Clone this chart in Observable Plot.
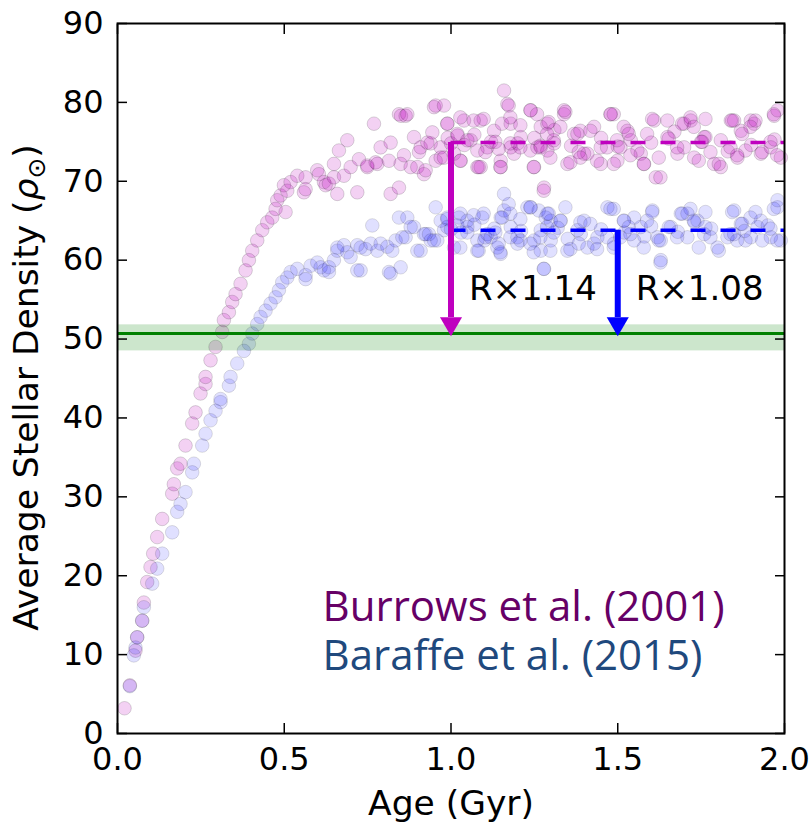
<!DOCTYPE html>
<html>
<head>
<meta charset="utf-8">
<script src="https://cdn.jsdelivr.net/npm/d3@7"></script>
<script src="https://cdn.jsdelivr.net/npm/@observablehq/plot@0.6"></script>
<style>
  html, body { margin: 0; padding: 0; background: #fff; }
  #chart svg { display: block; }
</style>
</head>
<body>
<div id="chart"></div>
<script>
// ---------------- data ----------------
const xTicks = [0, 0.5, 1.0, 1.5, 2.0];
const yTicks = [0, 10, 20, 30, 40, 50, 60, 70, 80, 90];
const xDomain = [0, 2];
const yDomain = [0, 90];

const burrowsAge = [
  0.021,0.037,0.054,0.059,0.074,0.079,0.089,0.099,0.107,0.119,0.134,0.164,0.169,0.179,0.189,0.204,0.224,0.234,0.249,0.264,
  0.264,0.279,0.294,0.314,0.319,0.334,0.344,0.354,0.369,0.384,0.394,0.404,0.419,0.434,0.449,0.464,0.474,0.479,0.489,0.499,
  0.504,0.509,0.519,0.539,0.559,0.564,0.564,0.599,0.604,0.619,0.624,0.634,0.649,0.649,0.659,0.664,0.679,0.689,0.699,0.719,
  0.724,0.749,0.749,0.769,0.774,0.779,0.789,0.814,0.819,0.819,0.844,0.844,0.849,0.850,0.859,0.864,0.869,0.879,0.889,0.899,
  0.904,0.909,0.919,0.924,0.929,0.939,0.944,0.949,0.954,0.954,0.969,0.969,0.979,0.989,1.009,1.029,1.039,1.059,1.079,1.089,
  1.089,1.109,1.129,1.149,1.149,1.159,1.169,1.179,1.179,1.189,1.209,1.239,1.249,1.259,1.269,1.269,1.279,1.289,1.289,1.309,
  1.339,1.339,1.349,1.369,1.379,1.399,1.409,1.429,1.449,1.449,1.479,1.499,1.529,1.539,1.559,1.569,1.579,1.609,1.614,1.649,
  1.649,1.679,1.699,1.699,1.719,1.729,1.759,1.789,1.809,1.809,1.839,1.849,1.859,1.869,1.899,1.909,1.929,1.959,1.969,1.979,
  1.989,0.990,1.000,1.020,1.040,1.070,1.120,1.200,1.310,1.450,1.600,1.750,1.900,1.970,1.500,1.360,1.250,1.670,1.830,
  1.173,1.098,1.068,1.028,0.989,0.979,1.019,1.049,1.079,1.103,1.133,1.153,1.178,1.208,1.238,1.258,1.293,1.288,1.268,1.238,
  1.208,1.178,1.143,1.308,1.343,1.328,1.388,1.418,1.383,1.358,1.298,1.248,1.148,1.083,1.028,1.388,1.438,1.478,1.498,1.468,
  1.278,1.488,1.518,1.533,1.508,1.488,1.538,1.578,1.588,1.603,1.628,1.623,1.653,1.678,1.693,1.718,1.728,1.763,1.763,1.743,
  1.778,1.803,1.838,1.843,1.873,1.898,1.913,1.883,1.933,1.968,1.978,1.958,1.858,1.753
];
const burrowsDensity = [
  3.2,6.1,10.5,12.2,14.3,16.6,19.2,21.1,22.8,24.9,27.2,30.4,31.6,33.6,34.2,36.5,39.3,40.7,43.1,44.3,
  45.2,47.3,49.0,50.9,52.4,53.4,54.7,55.7,57.0,58.7,60.0,61.2,62.5,63.8,64.8,65.4,66.5,67.6,68.2,69.5,
  66.1,68.8,69.9,70.7,68.6,70.5,69.0,71.4,70.9,69.9,69.5,69.7,70.5,72.2,68.4,73.9,70.7,75.2,71.8,68.6,
  72.8,71.8,72.0,77.3,72.4,72.2,74.3,72.6,68.4,74.9,69.2,78.5,72.2,78.3,73.3,78.3,78.5,71.8,75.6,71.8,
  73.7,74.3,70.9,71.4,74.9,74.8,76.2,79.4,79.6,72.6,74.3,73.0,73.0,77.3,73.5,72.6,77.7,75.2,71.8,77.7,
  71.8,74.3,76.4,71.8,72.6,81.5,79.8,77.3,74.3,73.5,75.6,79.0,71.8,74.3,76.9,74.3,69.2,73.9,77.3,74.8,
  78.5,79.0,72.2,76.0,76.0,73.5,73.5,76.9,74.3,72.2,78.5,72.6,76.4,75.2,73.9,73.5,72.2,77.7,70.5,75.6,
  77.7,73.5,77.3,74.3,77.7,73.0,75.6,72.2,71.8,75.2,77.7,77.7,73.0,76.4,77.7,77.3,73.5,74.3,78.3,79.0,
  73.0,75.5,74.8,75.8,74.6,75.9,75.0,74.8,76.5,75.5,74.9,75.0,74.6,75.3,74.4,74.5,75.5,76.3,73.8,
  79.6,77.9,77.7,78.1,77.3,79.6,76.0,75.2,73.9,73.7,75.0,77.3,78.1,77.1,79.0,78.5,77.5,76.0,74.5,73.9,
  74.3,74.8,74.1,75.2,78.8,76.9,76.4,76.4,73.7,72.4,73.0,71.8,71.8,71.8,72.6,73.0,72.6,78.5,75.2,74.3,
  68.8,78.5,76.9,76.0,74.3,72.2,73.3,72.2,76.0,77.9,70.5,73.0,75.4,74.3,77.3,78.1,76.9,77.9,75.6,72.6,
  73.7,72.2,74.3,77.7,76.0,76.9,77.7,73.9,73.7,78.5,73.3,75.0,73.3,75.0
];

const baraffeAge = [
  0.037,0.049,0.054,0.059,0.074,0.079,0.104,0.119,0.134,0.164,0.179,0.189,0.204,0.224,0.229,0.254,0.264,0.279,0.294,0.309,
  0.309,0.334,0.339,0.359,0.379,0.394,0.404,0.419,0.429,0.444,0.459,0.474,0.484,0.494,0.509,0.519,0.539,0.564,0.564,0.579,
  0.599,0.609,0.619,0.634,0.634,0.649,0.659,0.659,0.679,0.689,0.699,0.719,0.719,0.729,0.729,0.744,0.759,0.764,0.779,0.789,
  0.809,0.814,0.819,0.824,0.834,0.844,0.849,0.854,0.864,0.869,0.879,0.889,0.899,0.909,0.919,0.924,0.934,0.939,0.949,0.954,
  0.959,0.969,0.979,0.989,0.989,1.009,1.024,1.049,1.049,1.079,1.094,1.109,1.119,1.139,1.149,1.149,1.159,1.159,1.179,1.199,
  1.199,1.229,1.239,1.249,1.269,1.269,1.279,1.284,1.289,1.299,1.299,1.329,1.349,1.379,1.389,1.399,1.409,1.429,1.439,1.469,
  1.489,1.519,1.549,1.549,1.569,1.604,1.619,1.629,1.629,1.659,1.689,1.709,1.709,1.739,1.759,1.799,1.829,1.849,1.849,1.869,
  1.899,1.919,1.929,1.959,1.979,1.979,1.989,1.000,1.030,1.070,1.130,1.210,1.320,1.450,1.520,1.600,1.680,1.780,1.880,1.950,
  1.100,1.350,1.580,1.730,
  1.173,1.098,1.068,1.028,0.989,1.019,1.049,1.079,1.103,1.133,1.153,1.178,1.208,1.238,1.263,1.293,1.288,1.268,1.238,1.208,
  1.178,1.143,1.308,1.343,1.328,1.388,1.418,1.383,1.358,1.298,1.248,1.148,1.083,1.028,1.438,1.478,1.468,1.278,
  1.488,1.518,1.533,1.508,1.488,1.538,1.578,1.588,1.603,1.628,1.623,1.653,1.678,1.693,1.718,1.728,1.763,1.763,1.743,1.778,
  1.803,1.838,1.843,1.873,1.898,1.913,1.883,1.933,1.968,1.978,1.958,1.858
];
const baraffeDensity = [
  6.0,9.9,10.9,12.2,14.3,16.0,19.0,20.9,22.8,25.5,28.1,29.1,30.6,33.1,34.2,36.5,38.0,39.7,40.9,42.0,
  42.4,44.1,45.2,46.9,48.5,49.4,50.7,51.9,52.8,53.6,54.5,55.3,56.2,57.2,57.8,58.5,58.9,58.1,57.6,59.3,
  59.7,59.1,58.7,59.1,58.5,60.0,61.2,61.6,61.9,61.0,60.4,61.9,58.7,58.7,61.6,61.4,62.1,64.4,61.2,62.1,
  61.7,58.5,58.3,61.2,62.5,65.4,59.1,62.9,62.9,65.4,64.2,64.2,61.2,61.2,63.3,63.3,63.3,62.5,62.5,66.7,
  62.5,65.0,63.8,65.4,64.2,61.6,65.4,64.2,65.0,61.2,65.4,63.3,62.9,61.6,60.8,65.4,66.3,68.4,64.2,62.9,
  62.1,66.7,66.7,62.5,61.2,63.8,58.9,65.4,65.9,62.5,65.0,65.0,61.2,63.8,63.3,65.0,61.6,62.1,62.9,66.7,
  62.1,65.0,62.5,65.4,64.2,66.3,62.9,60.0,62.5,64.2,65.9,62.9,65.9,65.0,63.3,61.6,62.9,66.3,63.3,64.6,
  62.9,64.2,65.0,62.9,66.7,67.6,62.5,63.9,63.5,64.5,64.0,63.7,64.1,63.9,63.5,64.3,63.6,64.0,63.7,64.4,
  62.5,62.7,63.0,64.8,
  67.1,65.9,65.7,65.9,65.2,64.4,63.5,62.5,62.9,63.5,65.4,65.9,65.2,66.7,66.3,65.9,64.2,62.9,62.1,62.5,
  62.9,62.1,63.5,66.7,65.0,64.8,64.6,62.1,61.4,61.2,61.0,61.0,61.2,61.6,61.4,66.5,62.9,58.9,
  66.5,65.0,64.2,62.9,61.6,63.3,61.6,65.0,66.1,59.7,62.5,64.2,62.9,65.9,66.5,65.0,66.1,64.2,61.6,62.9,
  61.2,63.3,66.1,64.6,65.4,66.1,62.5,62.5,66.5,62.5,64.0,62.5
];

// reference density and its uncertainty band
const refDensity = 50.7;
const refBand = [48.5, 51.8];
// model plateau levels, arrow ages and labels
const seriesNames = ["Burrows et al. (2001)", "Baraffe et al. (2015)"];
const plateauLevels = [74.9, 63.8];
const arrowAges = [1.0, 1.5];
const plateauStart = 1.0;
const ratioLabels = ["R×1.14", "R×1.08"];
const legendAge = 0.615;
const legendDensity = [14.3, 8.0];
const ratioLabelDensity = 54.9;

// ------------- build tables -------------
const burrows = burrowsAge.map((x, i) => ({x, y: burrowsDensity[i]}));
const baraffe = baraffeAge.map((x, i) => ({x, y: baraffeDensity[i]}));
const arrows = arrowAges.map((x, i) => ({x, top: plateauLevels[i], label: ratioLabels[i], color: ["#bf00bf", "#0000ff"][i]}));
const plateaus = plateauLevels.map((y, i) => ({y, color: ["#bf00bf", "#0000ff"][i]}));
const legend = seriesNames.map((name, i) => ({name, y: legendDensity[i], color: ["#660066", "#1f497d"][i]}));

const font = "DejaVu Sans";

const chart = Plot.plot({
  width: 811,
  height: 826,
  marginLeft: 117,
  marginRight: 27,
  marginTop: 23,
  marginBottom: 93,
  style: {fontFamily: font, background: "white", color: "black", overflow: "visible"},
  x: {domain: xDomain},
  y: {domain: yDomain},
  marks: [
    Plot.dot(burrows, {x: "x", y: "y", r: 6.8, fill: "#bf00bf", fillOpacity: 0.18, stroke: "black", strokeOpacity: 0.15, strokeWidth: 1}),
    Plot.dot(baraffe, {x: "x", y: "y", r: 6.8, fill: "#0000ff", fillOpacity: 0.12, stroke: "black", strokeOpacity: 0.12, strokeWidth: 1}),
    Plot.rect([refBand], {x1: () => xDomain[0], x2: () => xDomain[1], y1: d => d[0], y2: d => d[1], fill: "green", fillOpacity: 0.2}),
    Plot.ruleY([refDensity], {stroke: "green", strokeWidth: 3}),
    Plot.ruleY(plateaus, {y: "y", x1: () => plateauStart, x2: () => xDomain[1], stroke: "color", strokeWidth: 3.5, strokeDasharray: "15,15"}),
    Plot.ruleX(arrows, {x: "x", y1: "top", y2: () => refDensity, stroke: "color", strokeWidth: 6, insetBottom: 16}),
    Plot.dot(arrows, {x: "x", y: () => refDensity, symbol: "triangle", rotate: 180, r: 8.2, fill: "color", stroke: "none", dy: -10}),
    Plot.text(arrows, {x: "x", y: () => ratioLabelDensity, text: "label", textAnchor: "start", lineAnchor: "bottom", dx: 18, fontSize: 34, fontFamily: font, fill: "black"}),
    Plot.text(legend, {x: () => legendAge, y: "y", text: "name", fill: "color", textAnchor: "start", lineAnchor: "bottom", fontSize: 42, fontFamily: "Open Sans"}),
    Plot.frame({stroke: "black", strokeWidth: 2}),
    // inward ticks on all four sides
    Plot.axisX(xTicks, {anchor: "bottom", tickSize: -10, fill: "none", label: null, strokeWidth: 1.5}),
    Plot.axisX(xTicks, {anchor: "top", tickSize: -10, fill: "none", label: null, strokeWidth: 1.5}),
    Plot.axisY(yTicks, {anchor: "left", tickSize: -10, fill: "none", label: null, strokeWidth: 1.5}),
    Plot.axisY(yTicks, {anchor: "right", tickSize: -10, fill: "none", label: null, strokeWidth: 1.5}),
    // tick labels and axis titles
    Plot.axisX(xTicks, {anchor: "bottom", tickSize: 0, tickPadding: 14, fontSize: 32, tickFormat: d3.format(".1f"),
      label: "Age (Gyr)", labelAnchor: "center", labelOffset: 81, labelArrow: false}),
    Plot.axisY(yTicks, {anchor: "left", tickSize: 0, tickPadding: 14, fontSize: 32,
      label: "Average Stellar Density (ρ⊙)", labelAnchor: "center", labelOffset: 104, labelArrow: false})
  ]
});

// make the ⊙ a subscript and ρ italic in the y-axis title
chart.querySelectorAll("text").forEach(t => {
  if (t.textContent.includes("ρ⊙")) {
    const ns = "http://www.w3.org/2000/svg";
    const parent = t.querySelector("tspan") || t;
    parent.textContent = "Average Stellar Density (";
    const rho = document.createElementNS(ns, "tspan");
    rho.setAttribute("font-style", "italic");
    rho.textContent = "ρ";
    const sun = document.createElementNS(ns, "tspan");
    sun.setAttribute("font-size", "0.72em");
    sun.setAttribute("dy", "7");
    sun.textContent = "⊙";
    const close = document.createElementNS(ns, "tspan");
    close.setAttribute("dy", "-7");
    close.textContent = ")";
    parent.appendChild(rho);
    parent.appendChild(sun);
    parent.appendChild(close);
    t.setAttribute("font-size", 34.5);
    t.setAttribute("transform", (t.getAttribute("transform") || "") + " translate(-9,0)");
  } else if (t.textContent.startsWith("Age")) {
    t.setAttribute("font-size", 34.5);
  }
});

document.getElementById("chart").appendChild(chart);
</script>
</body>
</html>
